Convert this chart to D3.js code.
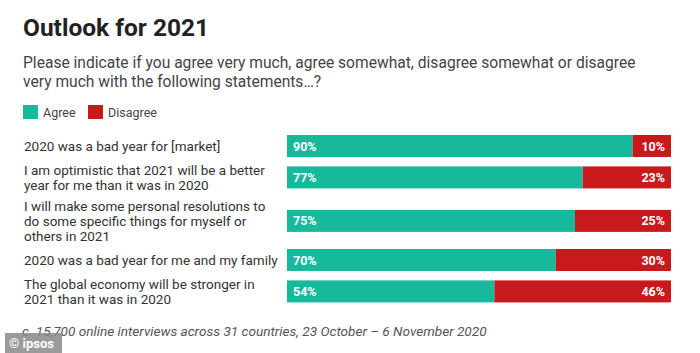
<!DOCTYPE html>
<html>
<head>
<meta charset="utf-8">
<script src="https://cdn.jsdelivr.net/npm/d3@7"></script>
<style>
  html, body { margin: 0; padding: 0; background: #ffffff; }
  svg { display: block; }
</style>
</head>
<body>
<svg id="chart" width="700" height="353"></svg>
<script>
const title = "Outlook for 2021";
const subtitleLines = [
  "Please indicate if you agree very much, agree somewhat, disagree somewhat or disagree",
  "very much with the following statements…?"
];
const seriesNames = ["Agree", "Disagree"];
const seriesColors = ["#17b99c", "#c8191c"];
const categories = [
  ["2020 was a bad year for [market]"],
  ["I am optimistic that 2021 will be a better", "year for me than it was in 2020"],
  ["I will make some personal resolutions to", "do some specific things for myself or", "others in 2021"],
  ["2020 was a bad year for me and my family"],
  ["The global economy will be stronger in", "2021 than it was in 2020"]
];
const agree = [90, 77, 75, 70, 54];
const disagree = [10, 23, 25, 30, 46];
const footnote = "c. 15,700 online interviews across 31 countries, 23 October – 6 November 2020";

const svg = d3.select("#chart");
const font = "Roboto, 'Noto Sans', sans-serif";

svg.append("text").attr("x", 23).attr("y", 36)
  .attr("font-family", font).attr("font-weight", 700).attr("font-size", 24.5)
  .attr("fill", "#222").text(title);

svg.append("g").selectAll("text").data(subtitleLines).join("text")
  .attr("x", 23).attr("y", (d, i) => 68 + i * 19)
  .attr("font-family", font).attr("font-size", 15.6).attr("fill", "#444")
  .text(d => d);

// legend
const legend = svg.append("g").attr("transform", "translate(23,105)");
const legX = [0, 65];
seriesNames.forEach((n, i) => {
  legend.append("rect").attr("x", legX[i]).attr("y", 0).attr("width", 15).attr("height", 14)
    .attr("fill", seriesColors[i]);
  legend.append("text").attr("x", legX[i] + 20).attr("y", 12)
    .attr("font-family", font).attr("font-size", 12.5).attr("fill", "#444").text(n);
});

// layout rows
const lineH = 15.4, barH = 22, gap = 5;
const rows = [];
let y0 = 135;
categories.forEach((c, i) => {
  const h = Math.max(barH, c.length * lineH);
  rows.push({ lines: c, top: y0, h: h, center: y0 + h / 2, agree: agree[i], disagree: disagree[i] });
  y0 += h + gap;
});
const x = d3.scaleLinear().domain([0, 100]).range([287, 671]);

const g = svg.append("g");
rows.forEach(r => {
  const by = r.center - barH / 2;
  g.append("rect").attr("x", x(0)).attr("y", by).attr("width", x(r.agree) - x(0)).attr("height", barH)
    .attr("fill", seriesColors[0]);
  g.append("rect").attr("x", x(r.agree)).attr("y", by).attr("width", x(100) - x(r.agree)).attr("height", barH)
    .attr("fill", seriesColors[1]);
  g.append("text").attr("x", x(0) + 6).attr("y", r.center + 4.5)
    .attr("font-family", font).attr("font-weight", 700).attr("font-size", 12.5).attr("fill", "#fff")
    .text(r.agree + "%");
  g.append("text").attr("x", x(100) - 6).attr("y", r.center + 4.5).attr("text-anchor", "end")
    .attr("font-family", font).attr("font-weight", 700).attr("font-size", 12.5).attr("fill", "#fff")
    .text(r.disagree + "%");
  const n = r.lines.length;
  r.lines.forEach((t, j) => {
    g.append("text").attr("x", 24)
      .attr("y", r.center + (j - (n - 1) / 2) * lineH + 5)
      .attr("font-family", font).attr("font-size", 13.5).attr("fill", "#333").text(t);
  });
});

svg.append("text").attr("x", 22).attr("y", 336)
  .attr("font-family", font).attr("font-style", "italic").attr("font-size", 13.6).attr("fill", "#555")
  .text(footnote);

// watermark
svg.append("rect").attr("x", 5).attr("y", 333).attr("width", 57).attr("height", 20)
  .attr("fill", "#8a8a8a").attr("opacity", 0.85);
svg.append("text").attr("x", 9).attr("y", 348)
  .attr("font-family", font).attr("font-weight", 700).attr("font-size", 13).attr("fill", "#fff")
  .text("© ipsos");
</script>
</body>
</html>
